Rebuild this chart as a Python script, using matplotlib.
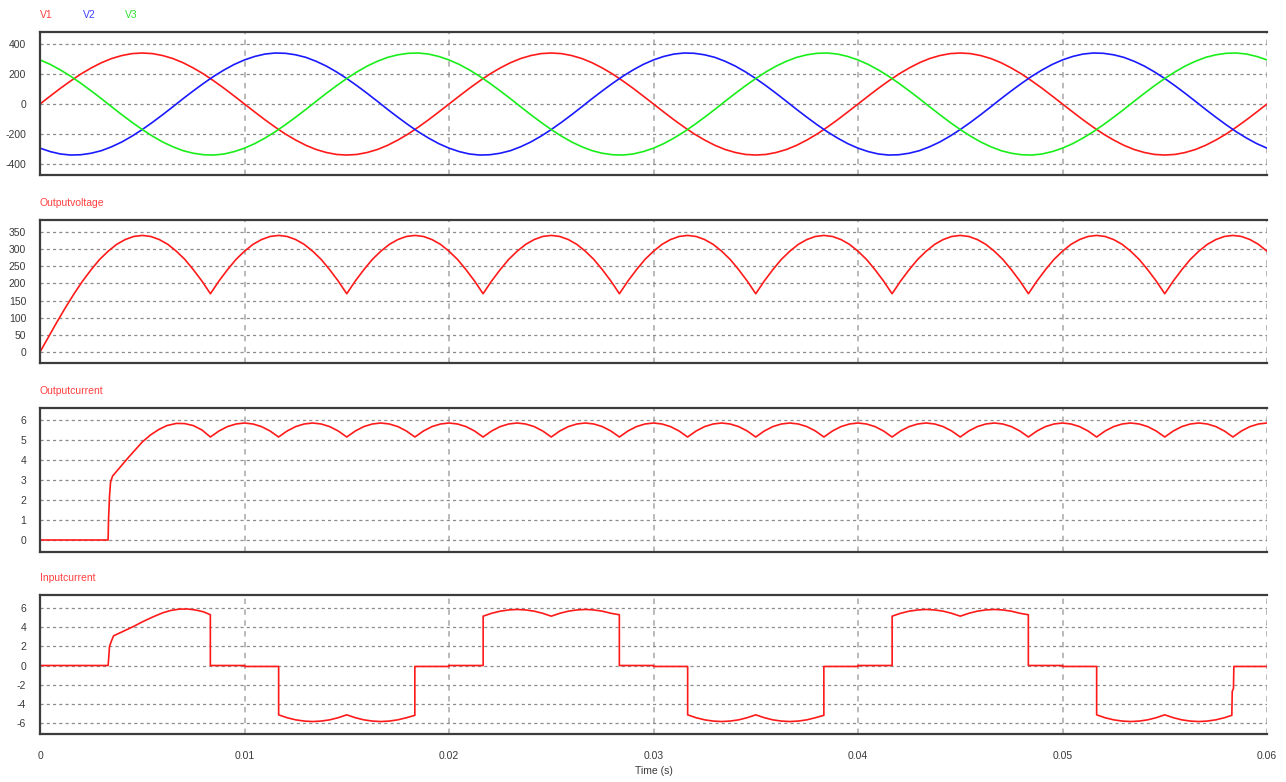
import numpy as np
import matplotlib
matplotlib.use("Agg")
import matplotlib.pyplot as plt

plt.rcParams["font.family"] = ["Liberation Sans", "DejaVu Sans"]
plt.rcParams["font.size"] = 7.5
plt.rcParams["axes.unicode_minus"] = False

# phase voltages, read every 0.5 ms from 0 to 60 ms
t_phase_ms = np.arange(0, 121) * 0.5
v1 = [0, 53, 105, 154, 200, 240, 275, 303, 323, 336, 340, 336, 323, 303, 275, 240, 200, 154, 105, 53,
      0, -53, -105, -154, -200, -240, -275, -303, -323, -336, -340, -336, -323, -303, -275, -240, -200, -154, -105, -53,
      0, 53, 105, 154, 200, 240, 275, 303, 323, 336, 340, 336, 323, 303, 275, 240, 200, 154, 105, 53,
      0, -53, -105, -154, -200, -240, -275, -303, -323, -336, -340, -336, -323, -303, -275, -240, -200, -154, -105, -53,
      0, 53, 105, 154, 200, 240, 275, 303, 323, 336, 340, 336, 323, 303, 275, 240, 200, 154, 105, 53,
      0, -53, -105, -154, -200, -240, -275, -303, -323, -336, -340, -336, -323, -303, -275, -240, -200, -154, -105, -53,
      0]
v2 = [-294, -317, -333, -340, -338, -328, -311, -285, -253, -214, -170, -122, -71, -18, 36, 88, 138, 185, 227, 264,
      294, 317, 333, 340, 338, 328, 311, 285, 253, 214, 170, 122, 71, 18, -36, -88, -138, -185, -227, -264,
      -294, -317, -333, -340, -338, -328, -311, -285, -253, -214, -170, -122, -71, -18, 36, 88, 138, 185, 227, 264,
      294, 317, 333, 340, 338, 328, 311, 285, 253, 214, 170, 122, 71, 18, -36, -88, -138, -185, -227, -264,
      -294, -317, -333, -340, -338, -328, -311, -285, -253, -214, -170, -122, -71, -18, 36, 88, 138, 185, 227, 264,
      294, 317, 333, 340, 338, 328, 311, 285, 253, 214, 170, 122, 71, 18, -36, -88, -138, -185, -227, -264,
      -294]
v3 = [294, 264, 227, 185, 138, 88, 36, -18, -71, -122, -170, -214, -253, -285, -311, -328, -338, -340, -333, -317,
      -294, -264, -227, -185, -138, -88, -36, 18, 71, 122, 170, 214, 253, 285, 311, 328, 338, 340, 333, 317,
      294, 264, 227, 185, 138, 88, 36, -18, -71, -122, -170, -214, -253, -285, -311, -328, -338, -340, -333, -317,
      -294, -264, -227, -185, -138, -88, -36, 18, 71, 122, 170, 214, 253, 285, 311, 328, 338, 340, 333, 317,
      294, 264, 227, 185, 138, 88, 36, -18, -71, -122, -170, -214, -253, -285, -311, -328, -338, -340, -333, -317,
      -294, -264, -227, -185, -138, -88, -36, 18, 71, 122, 170, 214, 253, 285, 311, 328, 338, 340, 333, 317,
      294]

# output voltage, read every 0.417 ms
t_vout_ms = np.arange(0, 145) * (60 / 144)
vout = [0, 44, 88, 130, 170, 207, 240, 270, 294, 314, 328, 337, 340, 337, 328, 314, 294, 270, 240, 207, 170,
        207, 240, 270, 294, 314, 328, 337, 340, 337, 328, 314, 294, 270, 240, 207, 170,
        207, 240, 270, 294, 314, 328, 337, 340, 337, 328, 314, 294, 270, 240, 207, 170,
        207, 240, 270, 294, 314, 328, 337, 340, 337, 328, 314, 294, 270, 240, 207, 170,
        207, 240, 270, 294, 314, 328, 337, 340, 337, 328, 314, 294, 270, 240, 207, 170,
        207, 240, 270, 294, 314, 328, 337, 340, 337, 328, 314, 294, 270, 240, 207, 170,
        207, 240, 270, 294, 314, 328, 337, 340, 337, 328, 314, 294, 270, 240, 207, 170,
        207, 240, 270, 294, 314, 328, 337, 340, 337, 328, 314, 294, 270, 240, 207, 170,
        207, 240, 270, 294, 314, 328, 337, 340, 337, 328, 314, 294]

# output current: start-up part, then ripple read every 0.417 ms from 8.33 ms on
t_iout_start_ms = [0, 3.33, 3.35, 3.40, 3.45, 3.55, 3.80, 4.30, 4.65, 5.00, 5.40, 5.80, 6.20, 6.67, 7.08, 7.50, 7.92]
iout_start = [0, 0, 1.0, 2.2, 2.9, 3.2, 3.5, 4.1, 4.5, 4.9, 5.25, 5.52, 5.72, 5.83, 5.82, 5.72, 5.5]
t_iout_ripple_ms = np.arange(20, 145) * (60 / 144)
iout_ripple = [5.15, 5.45, 5.67, 5.80, 5.85, 5.80, 5.67, 5.45, 5.15, 5.45, 5.67, 5.80, 5.85, 5.80, 5.67, 5.45,
               5.15, 5.45, 5.67, 5.80, 5.85, 5.80, 5.67, 5.45, 5.15, 5.45, 5.67, 5.80, 5.85, 5.80, 5.67, 5.45,
               5.15, 5.45, 5.67, 5.80, 5.85, 5.80, 5.67, 5.45, 5.15, 5.45, 5.67, 5.80, 5.85, 5.80, 5.67, 5.45,
               5.15, 5.45, 5.67, 5.80, 5.85, 5.80, 5.67, 5.45, 5.15, 5.45, 5.67, 5.80, 5.85, 5.80, 5.67, 5.45,
               5.15, 5.45, 5.67, 5.80, 5.85, 5.80, 5.67, 5.45, 5.15, 5.45, 5.67, 5.80, 5.85, 5.80, 5.67, 5.45,
               5.15, 5.45, 5.67, 5.80, 5.85, 5.80, 5.67, 5.45, 5.15, 5.45, 5.67, 5.80, 5.85, 5.80, 5.67, 5.45,
               5.15, 5.45, 5.67, 5.80, 5.85, 5.80, 5.67, 5.45, 5.15, 5.45, 5.67, 5.80, 5.85, 5.80, 5.67, 5.45,
               5.15, 5.45, 5.67, 5.80, 5.85, 5.80, 5.67, 5.45, 5.15, 5.45, 5.67, 5.80, 5.85]

# input current
t_iin_ms = [0, 3.33, 3.35, 3.40, 3.50, 3.60, 3.90, 4.20, 4.55, 5.00, 5.50, 6.00, 6.40, 6.80, 7.20, 7.60, 8.00, 8.33, 8.33,
            10.00, 10.00,
            11.67, 11.67, 12.08, 12.50, 12.92, 13.33, 13.75, 14.17, 14.58, 15.00, 15.42, 15.83, 16.25, 16.67, 17.08, 17.50, 17.92, 18.33, 18.33,
            20.00, 20.00,
            21.67, 21.67, 22.08, 22.50, 22.92, 23.33, 23.75, 24.17, 24.58, 25.00, 25.42, 25.83, 26.25, 26.67, 27.08, 27.50, 27.92, 28.33, 28.33,
            30.00, 30.00,
            31.67, 31.67, 32.08, 32.50, 32.92, 33.33, 33.75, 34.17, 34.58, 35.00, 35.42, 35.83, 36.25, 36.67, 37.08, 37.50, 37.92, 38.33, 38.33,
            40.00, 40.00,
            41.67, 41.67, 42.08, 42.50, 42.92, 43.33, 43.75, 44.17, 44.58, 45.00, 45.42, 45.83, 46.25, 46.67, 47.08, 47.50, 47.92, 48.33, 48.33,
            50.00, 50.00,
            51.67, 51.67, 52.08, 52.50, 52.92, 53.33, 53.75, 54.17, 54.58, 55.00, 55.42, 55.83, 56.25, 56.67, 57.08, 57.50, 57.92, 58.28,
            58.30, 58.36, 58.38, 60.00]
iin = [0, 0, 0.5, 2.0, 2.6, 3.1, 3.4, 3.7, 4.05, 4.55, 5.05, 5.5, 5.75, 5.88, 5.9, 5.8, 5.6, 5.3, 0,
       0, -0.1,
       -0.1, -5.15, -5.45, -5.67, -5.80, -5.85, -5.80, -5.67, -5.45, -5.15, -5.45, -5.67, -5.80, -5.85, -5.80, -5.67, -5.45, -5.2, -0.1,
       -0.1, 0,
       0, 5.15, 5.45, 5.67, 5.80, 5.85, 5.80, 5.67, 5.45, 5.15, 5.45, 5.67, 5.80, 5.85, 5.80, 5.67, 5.45, 5.3, 0,
       0, -0.1,
       -0.1, -5.15, -5.45, -5.67, -5.80, -5.85, -5.80, -5.67, -5.45, -5.15, -5.45, -5.67, -5.80, -5.85, -5.80, -5.67, -5.45, -5.2, -0.1,
       -0.1, 0,
       0, 5.15, 5.45, 5.67, 5.80, 5.85, 5.80, 5.67, 5.45, 5.15, 5.45, 5.67, 5.80, 5.85, 5.80, 5.67, 5.45, 5.3, 0,
       0, -0.1,
       -0.1, -5.15, -5.45, -5.67, -5.80, -5.85, -5.80, -5.67, -5.45, -5.15, -5.45, -5.67, -5.80, -5.85, -5.80, -5.67, -5.45, -5.2,
       -2.7, -2.4, -0.1, -0.1]

x_ticks = [0, 0.01, 0.02, 0.03, 0.04, 0.05, 0.06]
x_ticklabels = ["0", "0.01", "0.02", "0.03", "0.04", "0.05", "0.06"]

red = "#ff1a1a"
blue = "#1a1aff"
green = "#1aee1a"
W, H = 1286, 782

fig = plt.figure(figsize=(W / 100, H / 100), dpi=100)

# (top px, bottom px) of each panel
rows = [(32, 175), (220, 363), (408, 552), (595, 734)]
left_px, right_px = 40, 1267
axes = []
for top, bot in rows:
    ax = fig.add_axes([left_px / W, 1 - bot / H, (right_px - left_px) / W, (bot - top) / H])
    axes.append(ax)

ax1, ax2, ax3, ax4 = axes
ax1.plot(t_phase_ms * 1e-3, v1, color=red, lw=1.2)
ax1.plot(t_phase_ms * 1e-3, v2, color=blue, lw=1.2)
ax1.plot(t_phase_ms * 1e-3, v3, color=green, lw=1.2)
ax1.set_ylim(-473, 480)
ax1.set_yticks([-400, -200, 0, 200, 400])

ax2.plot(t_vout_ms * 1e-3, vout, color=red, lw=1.2)
ax2.set_ylim(-32, 385)
ax2.set_yticks([0, 50, 100, 150, 200, 250, 300, 350])

t_iout = np.concatenate([t_iout_start_ms, t_iout_ripple_ms]) * 1e-3
ax3.plot(t_iout, iout_start + iout_ripple, color=red, lw=1.2)
ax3.set_ylim(-0.6, 6.6)
ax3.set_yticks([0, 1, 2, 3, 4, 5, 6])

ax4.plot(np.array(t_iin_ms) * 1e-3, iin, color=red, lw=1.2)
ax4.set_ylim(-7.15, 7.36)
ax4.set_yticks([-6, -4, -2, 0, 2, 4, 6])

for ax in axes:
    ax.set_xlim(0, 0.06)
    ax.set_xticks(x_ticks)
    ax.set_xticklabels([])
    ax.grid(axis="x", color="#b4b4b4", ls=(0, (3, 3)), lw=1.3)
    ax.grid(axis="y", color="#8c8c8c", ls=(0, (2.5, 2.5)), lw=0.9)
    ax.set_axisbelow(True)
    ax.tick_params(length=0, labelsize=7.5, labelcolor="#3a3a3a", pad=10)
    for s in ["left", "top", "bottom"]:
        ax.spines[s].set_color("#3c3c3c")
        ax.spines[s].set_linewidth(1.6)
    ax.spines["right"].set_visible(False)

ax4.set_xticklabels(x_ticklabels)
ax4.tick_params(axis="x", pad=12)
ax4.set_xlabel("Time (s)", fontsize=7.5, color="#3a3a3a", labelpad=4)

def panel_title(ax, text, color, dx=0):
    ax.annotate(text, xy=(0, 1), xycoords="axes fraction", xytext=(dx, 12.2),
                textcoords="offset points", color=color, fontsize=7.5, va="center", ha="left")

panel_title(ax1, "V1", "#ff4040")
panel_title(ax1, "V2", "#4040ff", dx=43 * 0.72)
panel_title(ax1, "V3", "#30e030", dx=85 * 0.72)
panel_title(ax2, "Outputvoltage", "#ff4040")
panel_title(ax3, "Outputcurrent", "#ff4040")
panel_title(ax4, "Inputcurrent", "#ff4040")

fig.savefig("out.png", dpi=100)
